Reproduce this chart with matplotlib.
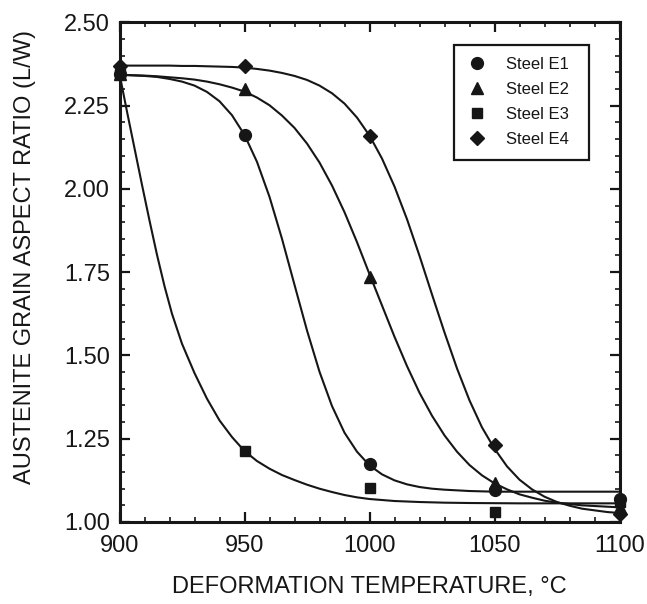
import matplotlib
matplotlib.use("Agg")
import matplotlib.pyplot as plt
from matplotlib.ticker import MultipleLocator

plt.rcParams['font.family'] = ['Liberation Sans', 'DejaVu Sans']

# ---- measured data points (markers) ----
temps = [900, 950, 1000, 1050, 1100]
e1_pts = [2.345, 2.162, 1.173, 1.095, 1.07]
e2_pts = [2.345, 2.300, 1.735, 1.116, 1.045]
e3_pts = [2.345, 1.213, 1.103, 1.031, 1.06]
e4_pts = [2.370, 2.370, 2.160, 1.230, 1.025]

# ---- fitted curves ----
curve_t = [900, 905, 910, 915, 920, 925, 930, 935, 940, 945, 950, 955, 960,
           965, 970, 975, 980, 985, 990, 995, 1000, 1005, 1010, 1015, 1020,
           1025, 1030, 1035, 1040, 1045, 1050, 1055, 1060, 1065, 1070, 1075,
           1080, 1085, 1090, 1095, 1100]
e1_curve = [2.343, 2.341, 2.339, 2.336, 2.330, 2.322, 2.310, 2.291, 2.263,
            2.221, 2.162, 2.081, 1.976, 1.850, 1.712, 1.575, 1.451, 1.348,
            1.268, 1.211, 1.170, 1.143, 1.125, 1.113, 1.105, 1.100, 1.097,
            1.095, 1.093, 1.092, 1.091, 1.091, 1.091, 1.091, 1.091, 1.091,
            1.091, 1.091, 1.091, 1.091, 1.091]
e2_curve = [2.342, 2.341, 2.340, 2.338, 2.335, 2.332, 2.328, 2.322, 2.314,
            2.304, 2.292, 2.274, 2.251, 2.220, 2.183, 2.136, 2.079, 2.010,
            1.930, 1.840, 1.744, 1.650, 1.556, 1.468, 1.388, 1.319, 1.260,
            1.211, 1.171, 1.140, 1.116, 1.098, 1.083, 1.073, 1.064, 1.058,
            1.054, 1.050, 1.048, 1.046, 1.044]
e4_curve = [2.370, 2.370, 2.370, 2.370, 2.370, 2.369, 2.369, 2.368, 2.367,
            2.366, 2.364, 2.360, 2.355, 2.348, 2.339, 2.327, 2.310, 2.287,
            2.256, 2.214, 2.160, 2.091, 2.007, 1.909, 1.799, 1.683, 1.569,
            1.461, 1.365, 1.284, 1.220, 1.167, 1.127, 1.098, 1.076, 1.060,
            1.049, 1.040, 1.035, 1.030, 1.027]
e3_curve_t = [900, 903, 906, 909, 912, 915, 918, 921, 925, 930, 935, 940,
              945, 950, 955, 960, 965, 970, 975, 980, 985, 990, 995, 1000,
              1010, 1020, 1030, 1040, 1060, 1080, 1100]
e3_curve = [2.345, 2.232, 2.122, 2.012, 1.905, 1.802, 1.708, 1.625, 1.535,
            1.447, 1.370, 1.305, 1.255, 1.213, 1.183, 1.160, 1.141, 1.126,
            1.112, 1.100, 1.090, 1.081, 1.074, 1.069, 1.063, 1.060, 1.058,
            1.057, 1.056, 1.056, 1.056]

labels = ['Steel E1', 'Steel E2', 'Steel E3', 'Steel E4']
x_ticks = [900, 950, 1000, 1050, 1100]
y_ticks = [1.00, 1.25, 1.50, 1.75, 2.00, 2.25, 2.50]

ink = '#161616'

fig = plt.figure(figsize=(6.47, 6.04), dpi=100)
ax = fig.add_axes([119.5 / 647, 1 - 522 / 604, 500 / 647, 499.7 / 604])

lw = 1.5
ax.plot(curve_t, e1_curve, color=ink, lw=lw)
ax.plot(curve_t, e2_curve, color=ink, lw=lw)
ax.plot(e3_curve_t, e3_curve, color=ink, lw=lw)
ax.plot(curve_t, e4_curve, color=ink, lw=lw)

ax.plot(temps, e1_pts, 'o', color=ink, ms=8.5, ls='none', clip_on=False, label=labels[0], zorder=5)
ax.plot(temps, e2_pts, '^', color=ink, ms=8.5, ls='none', clip_on=False, label=labels[1], zorder=5)
ax.plot(temps, e3_pts, 's', color=ink, ms=7.5, ls='none', clip_on=False, label=labels[2], zorder=5)
ax.plot(temps, e4_pts, 'D', color=ink, ms=7.5, ls='none', clip_on=False, label=labels[3], zorder=5)

ax.set_xlim(900, 1100)
ax.set_ylim(1.00, 2.50)
ax.set_xticks(x_ticks)
ax.set_xticklabels([str(t) for t in x_ticks])
ax.set_yticks(y_ticks)
ax.set_yticklabels([f'{v:.2f}' for v in y_ticks])
ax.xaxis.set_minor_locator(MultipleLocator(10))
ax.yaxis.set_minor_locator(MultipleLocator(0.05))

ax.tick_params(which='both', direction='in', top=True, right=True, colors=ink)
ax.tick_params(which='major', length=7, width=1.6, labelsize=17)
ax.tick_params(which='minor', length=3.5, width=1.2)
ax.tick_params(axis='x', which='major', pad=9)
ax.tick_params(axis='y', which='major', pad=7)
for s in ax.spines.values():
    s.set_linewidth(2.2)
    s.set_color(ink)

ax.set_xlabel('DEFORMATION TEMPERATURE, °C', fontsize=17, color=ink)
ax.xaxis.set_label_coords(0.5, -0.108)
ax.set_ylabel('AUSTENITE GRAIN ASPECT RATIO (L/W)', fontsize=17, color=ink)
ax.yaxis.set_label_coords(-0.167, 0.53)

leg = ax.legend(loc='upper left',
                bbox_to_anchor=((454 - 119.5) / 500, 0.5, 135 / 500, (522 - 44.3) / 500 - 0.5),
                mode='expand', frameon=True, fancybox=False, fontsize=12,
                handletextpad=1.13, borderpad=0.75, labelspacing=0.6,
                handlelength=1.22, borderaxespad=0)
leg.get_frame().set_edgecolor(ink)
leg.get_frame().set_linewidth(1.6)
leg.get_frame().set_alpha(1)
for t in leg.get_texts():
    t.set_color(ink)

fig.savefig('out.png', dpi=100)
